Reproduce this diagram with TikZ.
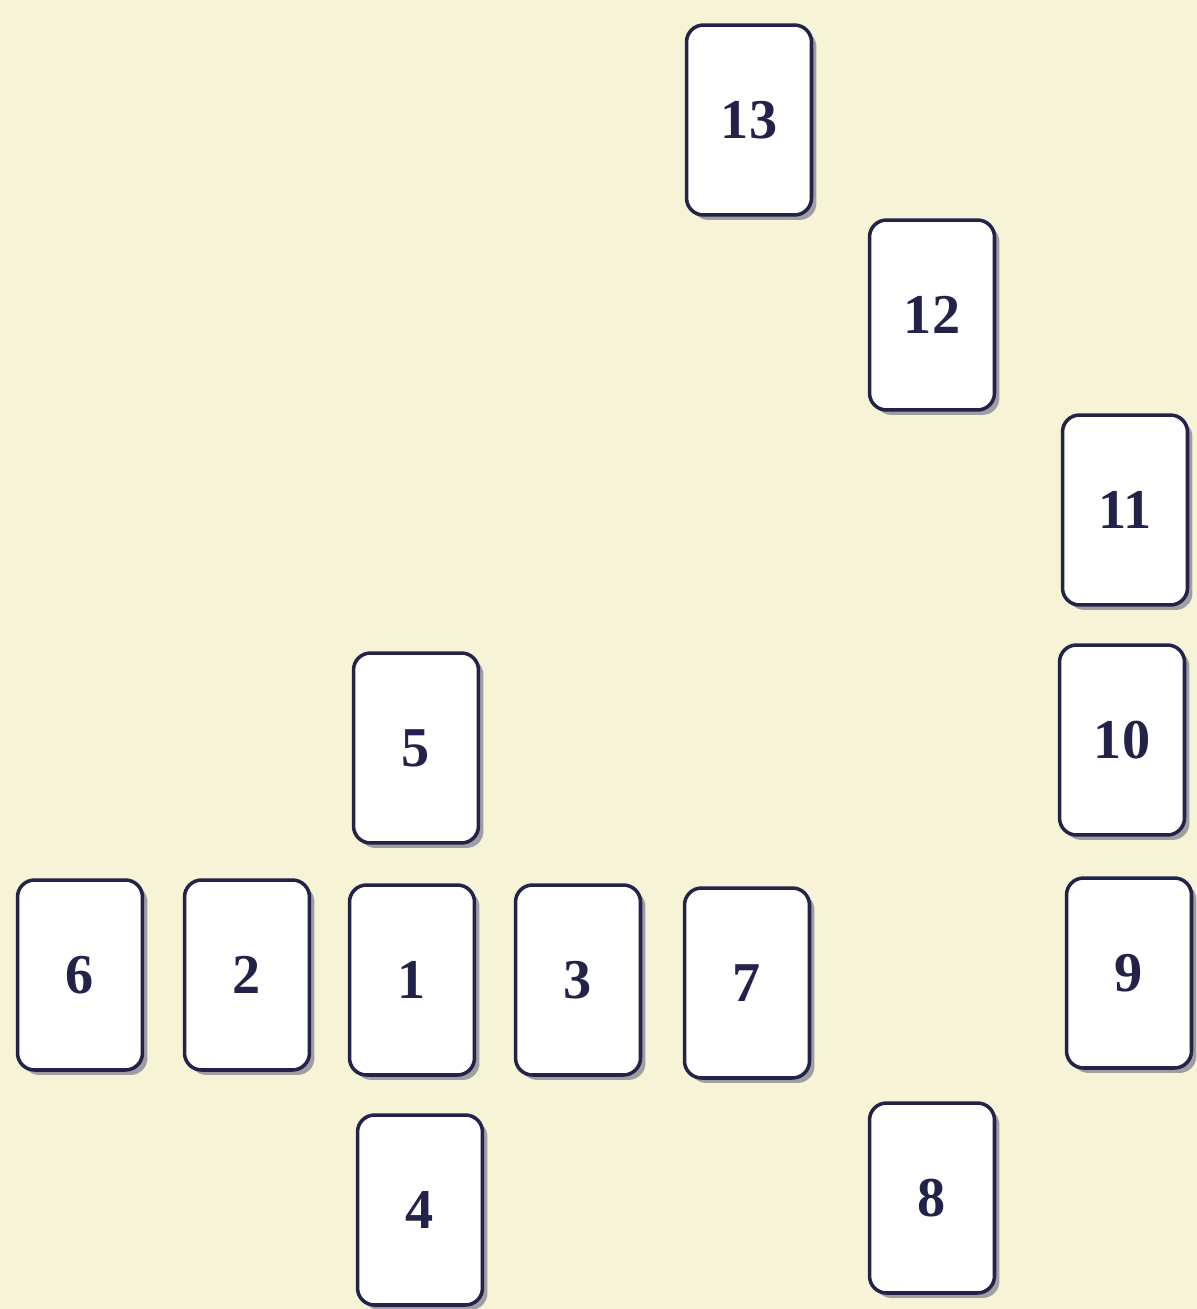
\documentclass[tikz,border=0pt]{standalone}
\usepackage{fontspec}
\setmainfont{Liberation Serif}
\usetikzlibrary{shadows}
\definecolor{cream}{HTML}{F6F3D6}
\definecolor{navy}{HTML}{23224A}
\tikzset{
  card/.style={draw=navy, line width=2pt, fill=white, rounded corners=0.34cm,
    minimum width=2.5cm, minimum height=3.8cm, inner sep=0pt,
    text=navy, font=\fontsize{32}{34}\selectfont\bfseries,
    drop shadow={shadow xshift=0.1cm, shadow yshift=-0.1cm, fill=navy!75, opacity=0.55}}
}
\begin{document}
\begin{tikzpicture}[x=0.02cm, y=-0.02cm]
        % background
        \fill[cream] (0,0) rectangle (1197,1309);
        \useasboundingbox (0,0) rectangle (1197,1309);

        % cards of the spread
        \foreach \n/\x/\y in {13/749/120, 12/932/315, 11/1125/510, 10/1122/740, 9/1129/973,
                              5/416/748, 6/80/975, 2/247/975, 1/412/980, 3/578/980,
                              7/747/983, 4/420/1210, 8/932/1198} {
            \node[card] (c\n) at (\x, \y) {\n};
        }
    \end{tikzpicture}
\end{document}
